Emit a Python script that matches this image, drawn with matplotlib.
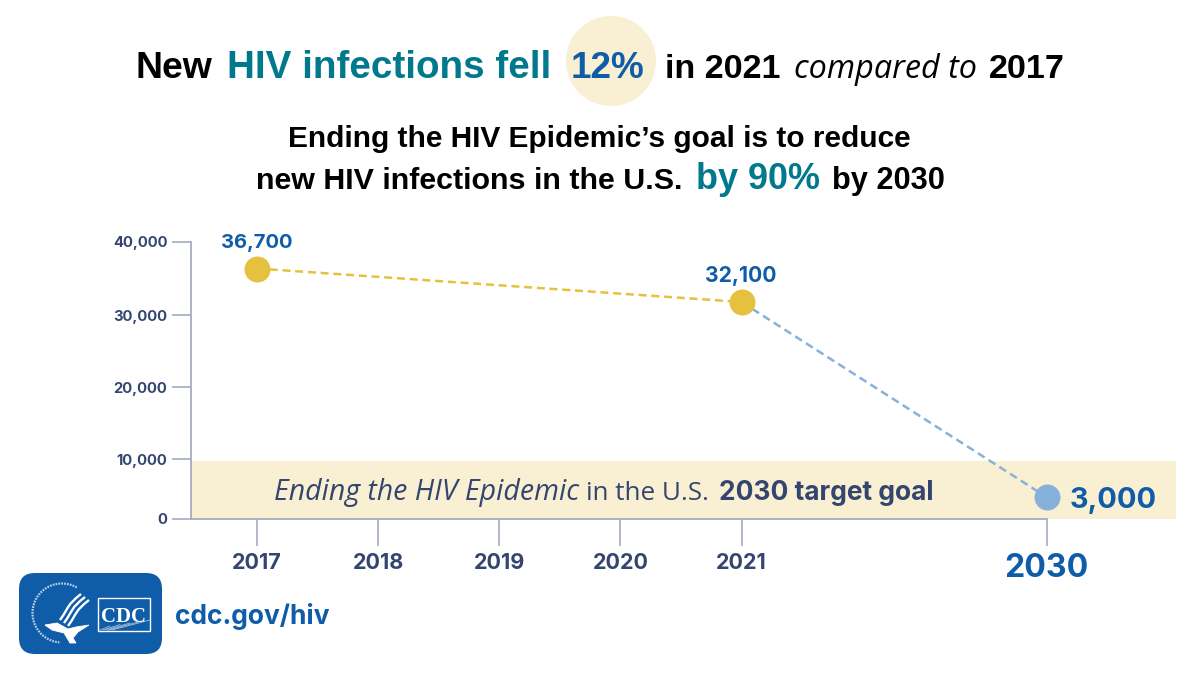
import numpy as np
import matplotlib
matplotlib.use("Agg")
import matplotlib.pyplot as plt
from matplotlib.patches import FancyBboxPatch, Circle, Rectangle, PathPatch
from matplotlib.path import Path

# ---------- data ----------
tick_years = [2017, 2018, 2019, 2020, 2021, 2030]
y_ticks = [0, 10000, 20000, 30000, 40000]
y_labels = ["0", "10,000", "20,000", "30,000", "40,000"]
years_observed = [2017, 2021]
values_observed = [36700, 32100]
years_goal = [2021, 2030]
values_goal = [32100, 3000]
value_labels = ["36,700", "32,100"]
goal_label = "3,000"
target_top = 9630

NAVY = "#34466f"
BLUE = "#0f5ca8"
TEAL = "#00798c"
GOLD = "#e5c13f"
LBLUE = "#86b1da"
CREAM = "#f9efd2"
AXIS = "#a4acc0"
HEAD = ["Liberation Sans", "DejaVu Sans"]
SANS = ["Inter", "DejaVu Sans"]
LIGHT = ["Open Sans", "DejaVu Sans"]

W, H = 1200, 675
fig = plt.figure(figsize=(W / 100, H / 100), dpi=100, facecolor="white")
renderer = fig.canvas.get_renderer()

ov = fig.add_axes([0, 0, 1, 1], zorder=3)
ov.set_xlim(0, W); ov.set_ylim(H, 0); ov.axis("off"); ov.patch.set_alpha(0)


def fitted(s, x0, x1, y, color, va="baseline", **kw):
    """Text whose left and right edges land on reference pixels."""
    t = ov.text(x0, y, s, color=color, fontsize=20, va=va, ha="left", **kw)
    w = t.get_window_extent(renderer).width
    t.set_fontsize(20 * (x1 - x0) / w)
    return t


def fit_size(s, width, **kw):
    t = ov.text(0, 0, s, fontsize=20, **kw)
    w = t.get_window_extent(renderer).width
    t.remove()
    return 20 * width / w


L, R, T, B = 191, 1176, 241.5, 518.5
ax = fig.add_axes([L / W, 1 - B / H, (R - L) / W, (B - T) / H], zorder=2)
ax.patch.set_alpha(0)

# the original's axes are hand-spaced (piecewise)
yk_v = [0, 3000, 10000, 30000, 32100, 36700, 40000]
yk_p = [0, 21.5, 59.5, 203.5, 216.5, 250, 277]
xk_v = [2016.5, 2017, 2021, 2030, 2041]
xk_p = [0, 66, 550.5, 855.5, 985]


def lin(a, b):
    return lambda v: np.interp(v, a, b)


ax.set_yscale("function", functions=(lin(yk_v, yk_p), lin(yk_p, yk_v)))
ax.set_xscale("function", functions=(lin(xk_v, xk_p), lin(xk_p, xk_v)))
ax.set_ylim(0, 40000)
ax.set_xlim(2016.5, 2041)

ax.axhspan(0, target_top, color=CREAM, lw=0, zorder=1)
dash = (0, (3.2, 1.9))
ax.plot(years_observed, values_observed, ls=dash, color=GOLD, lw=1.8, zorder=3)
ax.plot(years_goal, values_goal, ls=dash, color=LBLUE, lw=1.8, zorder=3)
ax.scatter(years_observed, values_observed, s=350, color=GOLD, lw=0, zorder=4, clip_on=False)
ax.scatter(years_goal[1:], values_goal[1:], s=350, color=LBLUE, lw=0, zorder=4, clip_on=False)

for s in ("top", "right"):
    ax.spines[s].set_visible(False)
for s in ("left", "bottom"):
    ax.spines[s].set_color(AXIS); ax.spines[s].set_linewidth(1.3)
ax.spines["bottom"].set_bounds(2016.5, 2030)
ax.set_yticks(y_ticks, y_labels)
ax.set_xticks(tick_years, [str(y) for y in tick_years])
ax.minorticks_off()
ysize = fit_size("40,000", 55, family=SANS, weight="bold")
xsize = fit_size("2017", 50, family=SANS, weight="bold")
bigsize = fit_size("2030", 84, family=SANS, weight="bold")
ax.tick_params(axis="y", length=13.5, width=1.2, color=AXIS, pad=3.6, labelsize=ysize,
               labelcolor=NAVY)
ax.tick_params(axis="x", length=19.5, width=1.2, color=AXIS, pad=5.5, labelsize=xsize,
               labelcolor=NAVY)
for t in ax.get_yticklabels() + ax.get_xticklabels():
    t.set_family(SANS); t.set_fontweight("bold")
last = ax.get_xticklabels()[-1]
last.set_color(BLUE); last.set_fontsize(bigsize)

# value labels
for (x0, x1, y), s in zip([(221, 293, 242.5), (705, 777, 276)], value_labels):
    fitted(s, x0, x1, y, BLUE, va="center", family=SANS, weight="bold")
fitted(goal_label, 1070, 1157, 500, BLUE, va="center", family=SANS, weight="bold")

# band caption
fitted("Ending the HIV Epidemic", 274, 579, 500, NAVY, family=LIGHT, style="italic")
fitted("in the U.S.", 586, 709, 500, NAVY, family=LIGHT)
fitted("2030 target goal", 719, 934, 500, NAVY, family=SANS, weight="bold")

# headline
ov.add_patch(Circle((611, 61), 45, color=CREAM, lw=0, zorder=0))
base1, base2, base3 = 78, 147, 189
runs = [
    ("New", 136, 213, base1, "black", HEAD, "bold", "normal"),
    ("HIV infections fell", 227, 551, base1, TEAL, HEAD, "bold", "normal"),
    ("12%", 571, 645, base1, BLUE, HEAD, "bold", "normal"),
    ("in 2021", 665, 781, base1, "black", HEAD, "bold", "normal"),
    ("compared to", 794, 977, base1, "black", LIGHT, "normal", "italic"),
    ("2017", 989, 1065, base1, "black", HEAD, "bold", "normal"),
    ("Ending the HIV Epidemic\u2019s goal is to reduce", 288, 912, base2, "black", HEAD, "bold", "normal"),
    ("new HIV infections in the U.S.", 256, 684, base3, "black", HEAD, "bold", "normal"),
    ("by 90%", 696, 820, base3, TEAL, HEAD, "bold", "normal"),
    ("by 2030", 832, 945, base3, "black", HEAD, "bold", "normal"),
]
for s, x0, x1, y, c, fam, w, st in runs:
    fitted(s, x0, x1, y, c, family=fam, weight=w, style=st)

# footer
fitted("cdc.gov/hiv", 175, 330, 624, BLUE, family=SANS, weight="bold")

# logo
ov.add_patch(FancyBboxPatch((19, 573), 143, 81, boxstyle="round,pad=0,rounding_size=16",
                            fc=BLUE, ec="none", lw=0, zorder=1))
ov.add_patch(Rectangle((97.5, 598), 52, 33, fc="none", ec="white", lw=1, zorder=2))
t = fitted("CDC", 101, 146, 622, "white", family=["Liberation Serif"], weight="bold", zorder=3)
for k in range(5):
    ov.plot([100 + k * 3, 110 + k * 10], [630, 622 - k * 1.5 + 4], color="white", lw=.5,
            alpha=.7, zorder=2)
th = np.radians(np.linspace(60, 265, 80))
ov.plot(62 + 29.5 * np.cos(th), 613 - 29.5 * np.sin(th), color="white", lw=1.6,
        ls=(0, (.8, .5)), alpha=.7, zorder=2)
for dx, dy in [(0, 0), (4, 3), (8, 6)]:
    p = Path([(60 + dx, 620 + dy), (70 + dx, 606 + dy), (66 + dx, 606 + dy), (81 + dx, 594 + dy)],
             [Path.MOVETO, Path.CURVE4, Path.CURVE4, Path.CURVE4])
    ov.add_patch(PathPatch(p, fc="none", ec="white", lw=1.7, zorder=2))
body = [(45, 625), (57, 623), (68, 629), (76, 627), (89, 625), (78, 632), (73, 638), (76, 643),
        (70, 643), (64, 633), (52, 630), (45, 625)]
ov.add_patch(PathPatch(Path(body), fc="white", ec="white", lw=.6, zorder=2))

fig.savefig("out.png", dpi=100)
